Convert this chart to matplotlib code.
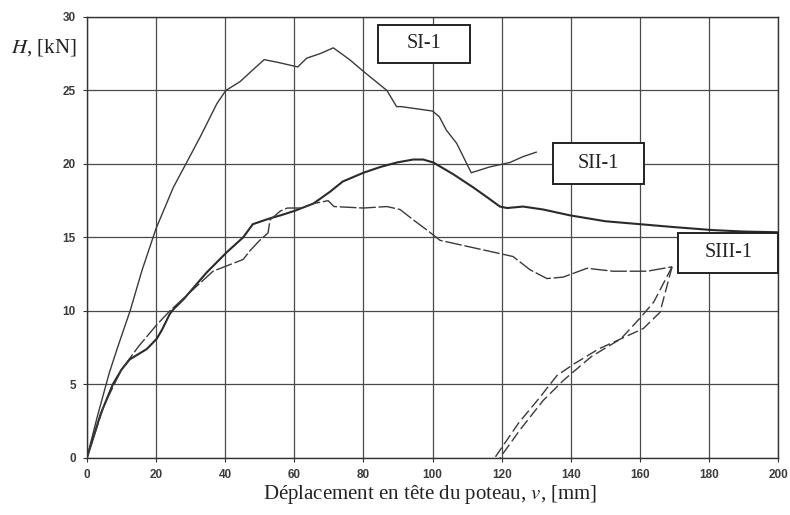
import numpy as np
import matplotlib.pyplot as plt
from matplotlib.patches import Rectangle

# --- donnees (deplacement v [mm], effort H [kN]) ---
si_v = [0, 3, 6.5, 9, 12.5, 16, 20, 25, 28.4, 32.7, 37.6, 40.2, 44.3, 48, 51.3,
        55.5, 61, 63.6, 67.4, 71.3, 76, 80, 86.8, 89.6, 91, 100, 102, 104, 107,
        111.2, 116.6, 122.4, 126.2, 130]
si_h = [0, 2.8, 5.8, 7.6, 10, 12.8, 15.6, 18.4, 19.9, 21.8, 24.1, 25.0, 25.6, 26.4, 27.1,
        26.9, 26.6, 27.2, 27.5, 27.9, 27.1, 26.3, 25.0, 23.9, 23.9, 23.6, 23.2, 22.3, 21.4,
        19.4, 19.8, 20.1, 20.5, 20.8]

sii_v = [0, 4, 7.5, 10, 12.4, 17.3, 20.2, 21.7, 24, 25, 28, 34.6, 40.5, 45.2, 48,
         53, 56, 60, 65.5, 70.3, 74, 80, 85, 89.7, 94.4, 97.3, 100.2, 106, 111.8,
         116, 119.5, 121.6, 126.2, 132, 139.8, 150, 160, 170, 181, 190, 200]
sii_h = [0, 3, 5.0, 6.0, 6.7, 7.4, 8.1, 8.7, 9.8, 10.1, 10.8, 12.6, 14.0, 15.0, 15.9,
         16.3, 16.5, 16.8, 17.3, 18.1, 18.8, 19.4, 19.8, 20.1, 20.3, 20.3, 20.1, 19.3, 18.4,
         17.7, 17.1, 17.0, 17.1, 16.9, 16.5, 16.1, 15.9, 15.7, 15.5, 15.4, 15.35]

siii_v = [0, 5, 10, 15, 20, 24, 30, 36.5, 45.2, 47.2, 50, 52.4, 53, 56, 58, 62,
          65.5, 69.8, 71.5, 80, 86.8, 90.6, 94.4, 98.4, 102.2, 111.8, 119.5, 123.3,
          128.2, 133.1, 137.8, 144.7, 152.2, 162.1, 169.3]
siii_h = [0, 3.6, 6.0, 7.6, 9.0, 10.0, 11.3, 12.7, 13.5, 14.1, 14.8, 15.3, 16.2, 16.8, 17.0, 17.0,
          17.3, 17.5, 17.1, 17.0, 17.1, 16.9, 16.2, 15.5, 14.8, 14.3, 13.9, 13.7,
          12.8, 12.2, 12.3, 12.9, 12.7, 12.7, 13.0]

# decharge / recharge SIII-1
dech1_v = [169.3, 164, 160, 154.5, 146, 138, 132, 125.3, 119.5]
dech1_h = [13.0, 10.6, 9.5, 8.1, 6.9, 5.3, 3.9, 1.9, 0]
dech2_v = [169.3, 167.5, 165.8, 161, 154.5, 148, 141, 136, 131, 125, 118]
dech2_h = [13.0, 11.4, 9.9, 8.8, 8.1, 7.4, 6.4, 5.6, 4.1, 2.4, 0]

etiquettes = ['SI-1', 'SII-1', 'SIII-1']

# --- mise en page ---
col = '#3a3a3a'
fig = plt.figure(figsize=(7.9, 5.15), dpi=100)
ax = fig.add_axes([0.110, 0.111, 0.875, 0.856])

ax.plot(si_v, si_h, '-', color=col, lw=1.0)
ax.plot(sii_v, sii_h, '-', color='#2a2a2a', lw=1.5)
ax.plot(siii_v, siii_h, color=col, lw=1.0, dashes=(12, 2))
ax.plot(dech1_v, dech1_h, color=col, lw=1.0, dashes=(8, 3))
ax.plot(dech2_v, dech2_h, color=col, lw=1.0, dashes=(8, 3))

ax.set_xlim(0, 200)
ax.set_ylim(0, 30)
ax.set_xticks(np.arange(0, 201, 20))
ax.set_yticks(np.arange(0, 31, 5))
ax.grid(True, color='#4a4a4a', lw=0.9)
ax.set_axisbelow(True)
for sp in ax.spines.values():
    sp.set_color('#333333')
    sp.set_linewidth(1.0)
ax.tick_params(length=3, width=0.8, color='#333333', labelcolor='#3c3c3c', pad=5)
for lab in ax.get_xticklabels() + ax.get_yticklabels():
    lab.set_fontfamily('Liberation Sans')
    lab.set_fontweight('bold')
    lab.set_fontsize(8.5)

# boites des essais (coins en donnees)
boites = [(84.2, 26.87, 26.7, 2.6), (134.9, 18.64, 26.3, 2.8), (171.1, 12.59, 28.9, 2.72)]
for (x0, y0, w, h), t in zip(boites, etiquettes):
    ax.add_patch(Rectangle((x0, y0), w, h, facecolor='white', edgecolor='#222222',
                           lw=1.4, zorder=5, clip_on=False))
    ax.text(x0 + w / 2, y0 + h / 2, t, ha='center', va='center', zorder=6,
            family='Liberation Serif', fontsize=14.5, color='#222222')

fig.text(0.055, 0.907, r'$H$, [kN]', ha='center', va='center', family='Liberation Serif',
         fontsize=15, color='#222222', math_fontfamily='stix')
fig.text(0.545, 0.039, r'Déplacement en tête du poteau, $v$, [mm]', ha='center', va='center',
         family='Liberation Serif', fontsize=15, color='#222222', math_fontfamily='stix')

fig.savefig('out.png', dpi=100)
